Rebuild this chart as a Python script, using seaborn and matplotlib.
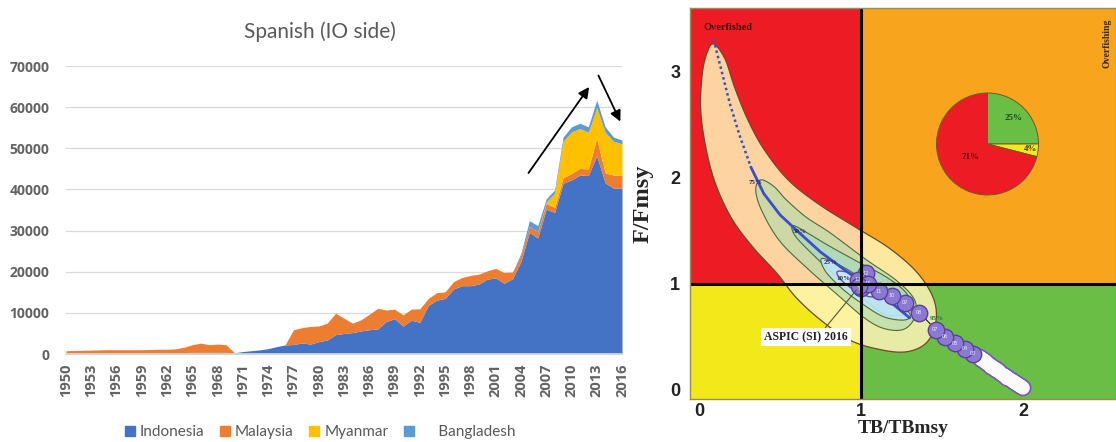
import numpy as np
import matplotlib
matplotlib.use("Agg")
import matplotlib.pyplot as plt
import seaborn as sns
from matplotlib.patches import Rectangle, Polygon
from matplotlib.lines import Line2D

# ---------------- catch by fleet (tonnes) ----------------
years = list(range(1950, 2017))

indonesia = [200, 200, 250, 250, 300, 300, 300, 300, 300, 300,
             300, 300, 350, 350, 350, 400, 400, 400, 400, 400,
             300, 600, 800, 1000, 1300, 1800, 2200, 2300, 2700, 2400,
             3000, 3400, 4700, 5000, 5200, 5600, 5900, 6100, 7900, 8600,
             6800, 8200, 7700, 11800, 13100, 13500, 15800, 16600, 16600, 17000,
             18200, 18500, 17200, 18300, 22500, 29600, 28200, 35200, 34400, 41500,
             42300, 43500, 43400, 48200, 41600, 40300, 40300]

malaysia = [600, 650, 650, 700, 700, 750, 750, 750, 750, 750,
            800, 850, 800, 900, 1300, 1850, 2250, 1850, 2000, 1850,
            0, 0, 0, 0, 0, 0, 0, 3600, 3700, 4300,
            3800, 4100, 5200, 3700, 2300, 2700, 3750, 5000, 2800, 2300,
            2700, 2700, 3300, 1700, 1800, 1600, 1800, 2000, 2500, 2400,
            2000, 2300, 2600, 1600, 1500, 1400, 1500, 1400, 1200, 1300,
            1600, 1600, 1600, 4200, 2400, 3200, 3200]

myanmar = [0] * 57 + [300, 3500, 8900, 10100, 9700, 8900, 7500, 9900, 8200, 7600]

bangladesh = [0] * 54 + [500, 1400, 1500, 800, 800, 1000, 1200, 1300, 1300, 1800,
                         1300, 1000, 900]

fleet_names = ["Indonesia", "Malaysia", "Myanmar", "     Bangladesh"]
fleet_colors = ["#4472C4", "#ED7D31", "#FFC000", "#5B9BD5"]
year_ticks = years[::3]

# trend arrows (year, catch): start -> end
trend_up = [(2004.9, 44000), (2012.1, 64900)]
trend_down = [(2013.2, 67700), (2015.8, 56500)]

# ---------------- stock status (Kobe plot) ----------------
kobe_years = list(range(1950, 2017))
tb_ratio = [2.00, 1.99, 1.99, 1.98, 1.98, 1.97, 1.97, 1.96, 1.96, 1.95,
            1.95, 1.94, 1.94, 1.93, 1.92, 1.91, 1.90, 1.90, 1.89, 1.89,
            1.90, 1.90, 1.89, 1.88, 1.88, 1.87, 1.86, 1.85, 1.84, 1.84,
            1.83, 1.83, 1.82, 1.81, 1.81, 1.80, 1.80, 1.79, 1.79, 1.78,
            1.79, 1.78, 1.78, 1.77, 1.77, 1.76, 1.76, 1.75, 1.75, 1.74,
            1.74, 1.74, 1.73,
            1.69, 1.64, 1.58, 1.52, 1.46, 1.36, 1.27, 1.19, 1.11, 1.03,
            0.98, 1.00, 1.04, 0.99]
f_ratio = [0.02, 0.03, 0.03, 0.04, 0.04, 0.05, 0.05, 0.06, 0.06, 0.07,
           0.07, 0.08, 0.08, 0.09, 0.10, 0.11, 0.12, 0.12, 0.13, 0.13,
           0.11, 0.12, 0.13, 0.14, 0.14, 0.15, 0.16, 0.18, 0.18, 0.19,
           0.19, 0.20, 0.21, 0.21, 0.22, 0.22, 0.23, 0.24, 0.24, 0.25,
           0.24, 0.25, 0.25, 0.26, 0.27, 0.27, 0.28, 0.28, 0.29, 0.29,
           0.30, 0.30, 0.31,
           0.34, 0.39, 0.44, 0.50, 0.57, 0.73, 0.82, 0.89, 0.93, 1.10,
           1.04, 0.96, 1.00, 0.98]
recent_from = 2003

# median of the bootstrapped 2016 status path
proj_tb = [0.09, 0.14, 0.19, 0.25, 0.32, 0.40, 0.50, 0.62, 0.75, 0.90, 1.05, 1.18, 1.30]
proj_f = [3.30, 3.00, 2.70, 2.40, 2.10, 1.85, 1.65, 1.48, 1.30, 1.13, 0.97, 0.83, 0.68]

# confidence isopleths of the 2016 status (TB/TBmsy, F/Fmsy)
ci95_tb = [0.09, 0.16, 0.22, 0.30, 0.40, 0.55, 0.74, 0.97, 1.18, 1.35, 1.45, 1.46, 1.40,
           1.28, 1.12, 0.93, 0.75, 0.60, 0.48, 0.33, 0.20, 0.10, 0.04, 0.01, 0.02, 0.05]
ci95_f = [3.26, 3.12, 2.85, 2.55, 2.27, 1.98, 1.75, 1.53, 1.33, 1.10, 0.85, 0.62, 0.44,
          0.36, 0.38, 0.47, 0.66, 0.87, 1.10, 1.35, 1.62, 1.95, 2.30, 2.65, 2.98, 3.18]
ci75_tb = [0.38, 0.46, 0.54, 0.66, 0.81, 1.03, 1.22, 1.33, 1.33, 1.26,
           1.14, 1.02, 0.86, 0.68, 0.50, 0.39, 0.35]
ci75_f = [1.98, 1.92, 1.79, 1.63, 1.48, 1.23, 1.03, 0.85, 0.68, 0.57,
          0.58, 0.68, 0.89, 1.13, 1.40, 1.68, 1.88]
ci50_tb = [0.58, 0.68, 0.80, 0.99, 1.15, 1.27, 1.31, 1.27, 1.15, 0.99, 0.82, 0.68, 0.59]
ci50_f = [1.55, 1.47, 1.36, 1.20, 1.07, 0.93, 0.80, 0.72, 0.71, 0.89, 1.11, 1.31, 1.46]
ci25_tb = [0.76, 0.90, 1.05, 1.20, 1.30, 1.27, 1.14, 1.00, 0.88, 0.78]
ci25_f = [1.24, 1.15, 1.00, 0.85, 0.72, 0.66, 0.69, 0.82, 0.96, 1.12]
ci10_tb = [0.86, 0.98, 1.10, 1.12, 1.05, 0.95, 0.87]
ci10_f = [1.12, 1.08, 0.97, 0.90, 0.88, 0.95, 1.05]

ci_labels = ["95%", "75%", "50%", "25%", "10%"]
ci_label_tb = [1.47, 0.35, 0.62, 0.81, 0.89]
ci_label_f = [0.67, 1.96, 1.49, 1.20, 1.05]

status_shares = [25, 4, 71]
status_colors = ["#6ABD45", "#F3E81A", "#ED1C24"]
status_text_colors = ["#1d4a1d", "#3a3a00", "#5a0a0a"]

# ---------------- figure ----------------
sns.set_theme(style="white")
plt.rcParams["font.family"] = ["Lato", "DejaVu Sans"]

W, H = 1116, 442
fig = plt.figure(figsize=(W / 100, H / 100), dpi=100)

# ======== left: stacked catch ========
ax1 = fig.add_axes([66 / W, 1 - 354 / H, (622 - 66) / W, (354 - 66) / H])
ax1.stackplot(years, indonesia, malaysia, myanmar, bangladesh,
              colors=fleet_colors, linewidth=0, zorder=2)
ax1.set_xlim(1950, 2016)
ax1.set_ylim(0, 70000)
ax1.set_yticks(range(0, 70001, 10000))
ax1.set_yticklabels([str(v) for v in range(0, 70001, 10000)])
ax1.set_xticks(year_ticks)
ax1.set_xticklabels([str(y) for y in year_ticks], rotation=90)
ax1.set_xticks(years, minor=True)
ax1.grid(axis="y", color="#D9D9D9", linewidth=0.9, zorder=0)
ax1.set_axisbelow(True)
for s in ["top", "right", "left"]:
    ax1.spines[s].set_visible(False)
ax1.spines["bottom"].set_color("#D9D9D9")
ax1.tick_params(axis="y", length=0, pad=12, labelsize=10, labelcolor="#636363")
ax1.tick_params(axis="x", which="major", length=4, color="#D9D9D9", pad=3,
                labelsize=10.5, labelcolor="#636363")
ax1.tick_params(axis="x", which="minor", length=4, color="#D9D9D9")
for lab in ax1.get_xticklabels() + ax1.get_yticklabels():
    lab.set_fontweight("bold")
    lab.set_family(["Open Sans", "DejaVu Sans"])

for (x0, y0), (x1, y1) in [trend_up, trend_down]:
    ax1.annotate("", xy=(x1, y1), xytext=(x0, y0), annotation_clip=False,
                 arrowprops=dict(arrowstyle="-|>", color="black", lw=1.3,
                                 mutation_scale=16, shrinkA=0, shrinkB=0))

fig.text(320 / W, 1 - 32 / H, "Spanish (IO side)", ha="center", va="center",
         fontsize=15, color="#595959")

handles = [Line2D([], [], marker="s", linestyle="none", markersize=7,
                  markerfacecolor=c, markeredgecolor=c) for c in fleet_colors]
fig.legend(handles, fleet_names, loc="center", bbox_to_anchor=(320 / W, 1 - 432 / H),
           ncol=4, frameon=False, fontsize=11, handlelength=0.7, handletextpad=0.3,
           columnspacing=1.0, labelcolor="#595959")

# ======== right: Kobe plot ========
ax2 = fig.add_axes([690 / W, 1 - 399 / H, (W - 690) / W, (399 - 8) / H])
xmin, xmax, ymin, ymax = -0.056, 2.574, -0.085, 3.6
ax2.set_xlim(xmin, xmax)
ax2.set_ylim(ymin, ymax)

quads = [((xmin, 1), 1 - xmin, ymax - 1, "#ED1C24"),
         ((1, 1), xmax - 1, ymax - 1, "#F8A51D"),
         ((xmin, ymin), 1 - xmin, 1 - ymin, "#F3E81A"),
         ((1, ymin), xmax - 1, 1 - ymin, "#6ABD45")]
for xy, w, h, c in quads:
    ax2.add_patch(Rectangle(xy, w, h, facecolor=c, edgecolor="none", zorder=0))


def closed_spline(xs, ys, n=24):
    pts = np.column_stack([xs, ys])
    m = len(pts)
    out = []
    for i in range(m):
        p0, p1, p2, p3 = pts[i - 1], pts[i], pts[(i + 1) % m], pts[(i + 2) % m]
        for t in np.linspace(0, 1, n, endpoint=False):
            out.append(0.5 * (2 * p1 + (-p0 + p2) * t
                              + (2 * p0 - 5 * p1 + 4 * p2 - p3) * t ** 2
                              + (-p0 + 3 * p1 - 3 * p2 + p3) * t ** 3))
    return np.array(out)


isopleths = [
    (ci95_tb, ci95_f, "#FFF4B8", 0.85, "#6b4a2a", 0.9),
    (ci75_tb, ci75_f, "#bcdcaa", 0.75, "#4d6b3a", 0.8),
    (ci50_tb, ci50_f, "#a9d8c0", 0.75, "#4d6b3a", 0.8),
    (ci25_tb, ci25_f, "#bfe6f2", 0.9, "#4d6b3a", 0.8),
    (ci10_tb, ci10_f, "#c9e9f7", 0.95, "#6a4fb0", 1.0),
]
for k, (xs, ys, fc, al, ec, lw) in enumerate(isopleths):
    pts = closed_spline(xs, ys)
    ax2.add_patch(Polygon(pts, closed=True, facecolor=fc, alpha=al,
                          edgecolor="none", zorder=2 + k))
    ax2.add_patch(Polygon(pts, closed=True, facecolor="none", edgecolor=ec,
                          linewidth=lw, zorder=2 + k))

for lab, x, y in zip(ci_labels, ci_label_tb, ci_label_f):
    ax2.text(x, y, lab, fontsize=5, fontweight="bold", ha="center", va="center",
             color="#1f7a2a" if lab == "95%" else "#2a2a5a",
             family=["Liberation Serif"], zorder=9)

# median path of the status estimate
sns.lineplot(x=proj_tb[:5], y=proj_f[:5], sort=False, estimator=None, ax=ax2,
             color="#3a4fc8", linewidth=1.8, linestyle=(0, (1, 1.2)), zorder=8)
sns.lineplot(x=proj_tb[4:], y=proj_f[4:], sort=False, estimator=None, ax=ax2,
             color="#3a4fc8", linewidth=2.0, zorder=8)

# historical trajectory
sns.lineplot(x=tb_ratio, y=f_ratio, sort=False, estimator=None, ax=ax2,
             color="#1a1a1a", linewidth=0.8, zorder=10)
early = [i for i, y in enumerate(kobe_years) if y < recent_from]
recent = [i for i, y in enumerate(kobe_years) if y >= recent_from]
early_tb = [tb_ratio[i] for i in early]
early_f = [f_ratio[i] for i in early]
# outline pass then fill pass so the dense early years merge into one band
sns.scatterplot(x=early_tb, y=early_f, ax=ax2, s=150, color="#7a5cb8",
                edgecolor="none", linewidth=0, zorder=11)
sns.scatterplot(x=early_tb, y=early_f, ax=ax2, s=95, color="#fbfaff",
                edgecolor="none", linewidth=0, zorder=11.5)
sns.scatterplot(x=[tb_ratio[i] for i in recent], y=[f_ratio[i] for i in recent], ax=ax2,
                s=140, color="#8b7ad2", edgecolor="#5a3fa0", linewidth=1.0, zorder=12)
for i in recent:
    ax2.text(tb_ratio[i], f_ratio[i], f"{kobe_years[i] % 100:02d}", fontsize=4,
             ha="center", va="center", color="#f0eaff", zorder=13)

ax2.axvline(1, color="black", linewidth=2.2, zorder=14)
ax2.axhline(1, color="black", linewidth=2.2, zorder=14)

# terminal-year annotation
ax2.annotate("ASPIC (SI) 2016", xy=(tb_ratio[-1] - 0.02, f_ratio[-1] - 0.04),
             xytext=(0.66, 0.50), ha="center", va="center", fontsize=8.5,
             fontweight="bold", family=["Liberation Serif"], color="#222222",
             bbox=dict(boxstyle="square,pad=0.25", facecolor="white", edgecolor="none"),
             arrowprops=dict(arrowstyle="-", color="#555533", lw=0.8,
                             shrinkA=0, shrinkB=0, relpos=(0.7, 1.0)),
             zorder=15)

ax2.text(0.03, 3.42, "Overfished", fontsize=7.5, fontweight="bold",
         family=["Liberation Serif"], color="#4a0a0a", ha="left", va="center", zorder=15)
ax2.text(2.52, 3.27, "Overfishing", fontsize=7, fontweight="bold", rotation=90,
         family=["Liberation Serif"], color="#3a2a10", ha="center", va="center",
         zorder=15)

ax2.set_xticks([0, 1, 2])
ax2.set_yticks([0, 1, 2, 3])
ax2.tick_params(length=0, labelsize=13, labelcolor="#222222")
ax2.tick_params(axis="x", pad=3)
ax2.tick_params(axis="y", pad=7)
for lab in ax2.get_xticklabels() + ax2.get_yticklabels():
    lab.set_fontweight("bold")
    lab.set_family(["Liberation Sans"])
ax2.set_xlabel("TB/TBmsy", fontsize=14, fontweight="bold",
               family=["Liberation Serif"], labelpad=0)
ax2.set_ylabel("F/Fmsy", fontsize=17.5, fontweight="bold",
               family=["Liberation Serif"], labelpad=12)
for s in ax2.spines.values():
    s.set_color("#9a8c55")
    s.set_linewidth(1.0)
    s.set_zorder(16)

# status pie of the 2016 estimate
cx, cy, r = 987.5, 144, 52
axp = fig.add_axes([(cx - r) / W, 1 - (cy + r) / H, 2 * r / W, 2 * r / H])
axp.pie(status_shares, colors=status_colors, startangle=90, counterclock=False,
        radius=1, wedgeprops=dict(edgecolor="#6b5a2a", linewidth=0.7))
axp.set_xlim(-1.02, 1.02)
axp.set_ylim(-1.02, 1.02)
axp.set_aspect("equal")
cum = 0
for share, dist, tc in zip(status_shares, [0.72, 0.86, 0.42], status_text_colors):
    mid = np.deg2rad(90 - 360 * (cum + share / 2) / 100)
    cum += share
    axp.text(dist * np.cos(mid), dist * np.sin(mid), f"{share}%", fontsize=6.5,
             fontweight="bold", family=["Liberation Serif"], color=tc,
             ha="center", va="center")

fig.savefig("out.png", dpi=100)
